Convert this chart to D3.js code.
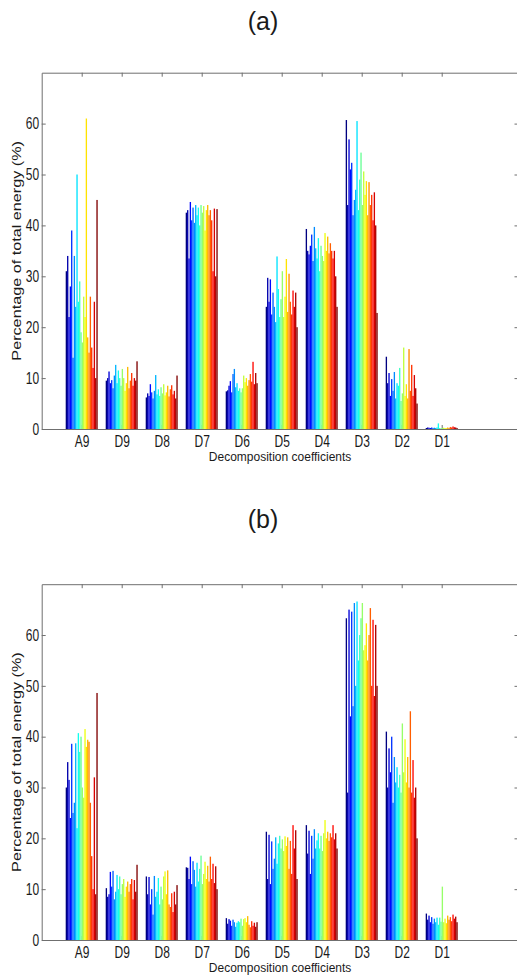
<!DOCTYPE html>
<html>
<head>
<meta charset="utf-8">
<script src="https://cdn.jsdelivr.net/npm/d3@7"></script>
<style>
  body { margin: 0; background: #fff; }
  text { font-family: "Liberation Sans", Arial, sans-serif; fill: #1a1a1a; }
</style>
</head>
<body>
<div class="chart"></div>
<script>
var svgWidth = 517;
var svgHeight = 976;

// categories on the x axis (wavelet decomposition levels)
var categories = ["A9", "D9", "D8", "D7", "D6", "D5", "D4", "D3", "D2", "D1"];
var yTicks = [0, 10, 20, 30, 40, 50, 60];
var nSeries = 24;

// panel (a): one row per category, one value per signal (blue -> red)
var energyA = [
  [31, 34, 22, 28, 39, 14, 34, 24, 50, 25, 29, 19, 17, 26, 22, 61, 18, 15, 26, 16, 12, 25, 10, 45],              // A9
  [9.5, 10, 11.3, 9, 9.6, 8, 10.5, 12.6, 9, 11.5, 10, 8.5, 11.8, 10, 7.5, 9, 12.2, 8, 9.5, 11, 8.5, 10, 9.5, 13.3], // D9
  [6.2, 7, 6.5, 8.8, 7.2, 6, 7.5, 10.6, 6.8, 7.8, 6.5, 8.2, 7, 8.8, 6.6, 7.2, 8.5, 6.4, 7.8, 8.6, 6.8, 7.5, 6, 10.5], // D8
  [42.5, 43, 33.5, 44.6, 41, 43.5, 40.5, 44, 42, 43.5, 40, 44, 42.5, 43.8, 39, 43, 44, 42, 43, 41, 31, 43.3, 30, 43.2], // D7
  [7.4, 7.6, 8.5, 9.4, 7.2, 10.8, 11.8, 8.2, 9, 7.5, 8, 7.2, 8, 10.5, 9.2, 10, 8.5, 9.6, 10.8, 9.3, 13.2, 8.8, 11, 9], // D6
  [24, 29.7, 25, 29.4, 22.5, 26.8, 24, 21, 33.9, 27.5, 22, 25.5, 31, 22, 26, 33.4, 23, 30.5, 25, 22.5, 27.2, 24, 26.8, 20], // D5
  [39.3, 35, 34.3, 36, 38.2, 33, 39.7, 35.5, 33.5, 37.5, 31, 36, 34, 33, 38.5, 35, 37.8, 34.5, 36.5, 35, 33.5, 35, 30, 24], // D4
  [60.7, 44, 56.9, 51, 52.3, 42, 45, 47, 60.5, 43, 49, 54.3, 44, 50.6, 46, 48.7, 42, 48.5, 44, 46, 41, 46.5, 40, 22.8], // D3
  [14.2, 9, 11, 6.5, 9.8, 7.5, 11.2, 6, 9, 8.5, 12, 5.5, 7, 16, 6.5, 8.8, 6, 15.7, 7.5, 12.6, 6.5, 10.6, 8, 5], // D2
  [0.2, 0.3, 0.25, 0.2, 0.3, 0.2, 0.25, 0.2, 0.3, 1.1, 0.2, 0.15, 0.2, 0.25, 0.2, 0.15, 0.3, 0.2, 0.4, 0.3, 0.5, 0.35, 0.3, 0.2] // D1
];

// panel (b)
var energyB = [
  [30, 35, 31.5, 24, 38.6, 25, 27, 38.7, 22, 40.7, 37, 40, 30, 28, 41.5, 38, 39.4, 39, 27, 16.5, 10, 32, 9, 48.6], // A9
  [10.2, 8.5, 9, 13.4, 10.5, 13.6, 8, 9.5, 12.8, 10, 12.5, 9, 11, 12, 8.5, 10.5, 11.5, 9.5, 11, 12, 8, 11.8, 9.5, 14.8], // D9
  [12.5, 9, 12.4, 7, 10, 5, 12.6, 8.5, 9.5, 12.2, 7, 10.5, 8, 12.5, 13.5, 9, 13.7, 7, 6.5, 9.2, 5.5, 9.5, 7, 10.8], // D8
  [14.3, 14.2, 12, 16.4, 11, 15.5, 13.8, 10.5, 15.2, 11.5, 14, 16.6, 11, 13, 15.4, 12, 14.6, 11.5, 16.4, 12, 15, 11.2, 14.5, 10], // D7
  [4.3, 3.2, 4.1, 3.8, 2.8, 4, 3.5, 2.6, 3.4, 3.7, 3.5, 4.2, 2.8, 4.1, 4.3, 3.5, 4.7, 3, 2.5, 3.7, 2.8, 3.4, 2.6, 3.5], // D6
  [21.3, 12, 20.7, 11, 19.4, 14, 16, 20.2, 15, 19, 20.5, 18, 19.8, 17.5, 20.4, 18.5, 20.2, 14, 19.5, 13, 22.6, 18, 21.6, 12], // D5
  [22.6, 17, 21.5, 13, 20.5, 16, 21.8, 18, 19.6, 21, 18, 20.5, 17.5, 21, 23.6, 20, 21.3, 19.5, 21, 20.2, 22.6, 19.8, 21, 18], // D4
  [63.3, 29, 65, 44, 64.6, 46, 66.3, 50, 66.6, 55, 60, 63.3, 66.3, 57, 58, 62.3, 55, 60, 65.3, 50, 63, 48, 62, 50], // D3
  [41, 30, 37.7, 33, 40, 27, 36, 31, 34, 30, 32.5, 29, 42.6, 33, 39.5, 31, 36, 30, 45, 29, 35.4, 28, 30, 20], // D2
  [5.2, 4, 4.8, 3.5, 4.5, 3.2, 4.2, 3.5, 4.4, 3, 4.4, 3.6, 10.5, 3.5, 4.2, 3.3, 4.8, 4, 4.5, 3.7, 5, 4.2, 4.6, 3.5] // D1
];

// the source figure is stretched vertically, so text is too
var stretch = "scale(1,1.35)";
var axisColor = "#6f6f6f";

var panels = [
  { title: "(a)", titleY: 30, top: 72.7, bottom: 429, data: energyA },
  { title: "(b)", titleY: 528, top: 584.2, bottom: 940, data: energyB }
];

var svg = d3.select(".chart")
  .append("svg")
  .attr("width", svgWidth)
  .attr("height", svgHeight);

// x scale in category units, MATLAB style (1..10, axis runs a bit past)
var xMax = 11.92;
var xScale = d3.scaleLinear()
  .domain([0, xMax])
  .range([41.7, 518.5]);

// bars of one group fill 0.8 of a category slot
var halfGroup = (xScale(0.4) - xScale(0));
var subScale = d3.scaleBand()
  .domain(d3.range(nSeries))
  .range([-halfGroup, halfGroup]);

// MATLAB jet colormap
function jet(t) {
  var r = Math.min(1, Math.max(0, 1.5 - Math.abs(4 * t - 3)));
  var g = Math.min(1, Math.max(0, 1.5 - Math.abs(4 * t - 2)));
  var b = Math.min(1, Math.max(0, 1.5 - Math.abs(4 * t - 1)));
  return d3.rgb(r * 255, g * 255, b * 255).toString();
}

panels.forEach(function(p) {
  var yScale = d3.scaleLinear()
    .domain([0, 70])
    .range([p.bottom, p.top]);

  var chartGroup = svg.append("g");

  // title
  chartGroup.append("text")
    .attr("x", 263)
    .attr("y", p.titleY)
    .attr("text-anchor", "middle")
    .style("font-size", "25px")
    .text(p.title);

  // left axis with labels
  var leftAxis = chartGroup.append("g")
    .attr("transform", `translate(${xScale(0)},0)`)
    .call(d3.axisLeft(yScale).tickValues(yTicks).tickSizeInner(-4).tickSizeOuter(0).tickPadding(2.5));

  leftAxis.selectAll("text")
    .attr("transform", stretch)
    .style("font-size", "12px");

  // right axis, ticks only
  chartGroup.append("g")
    .attr("transform", `translate(${xScale(xMax)},0)`)
    .call(d3.axisRight(yScale).tickValues(yTicks).tickSizeInner(-4).tickSizeOuter(0).tickFormat(""));

  // top axis, ticks only
  chartGroup.append("g")
    .attr("transform", `translate(0,${p.top})`)
    .call(d3.axisTop(xScale).tickValues(d3.range(1, 11)).tickSizeInner(-4).tickSizeOuter(0).tickFormat(""));

  // bottom axis with category names
  var bottomAxis = chartGroup.append("g")
    .attr("transform", `translate(0,${p.bottom})`)
    .call(d3.axisBottom(xScale).tickValues(d3.range(1, 11)).tickSizeInner(-4).tickSizeOuter(0)
      .tickFormat(d => categories[d - 1]));

  bottomAxis.selectAll("text")
    .attr("y", 13.1)
    .attr("dy", null)
    .attr("transform", stretch)
    .style("font-size", "12px");

  chartGroup.selectAll(".domain, .tick line")
    .attr("stroke", axisColor);
  chartGroup.selectAll(".tick text")
    .attr("fill", "#1a1a1a")
    .style("font-family", "'Liberation Sans', Arial, sans-serif");

  // grouped bars
  chartGroup.append("g")
    .selectAll("g")
    .data(p.data)
    .enter()
    .append("g")
    .attr("transform", (d, i) => `translate(${xScale(i + 1)},0)`)
    .selectAll("rect")
    .data(d => d)
    .enter()
    .append("rect")
    .attr("x", (d, j) => subScale(j))
    .attr("width", subScale.bandwidth())
    .attr("y", d => yScale(d))
    .attr("height", d => yScale(0) - yScale(d))
    .attr("fill", (d, j) => jet(j / (nSeries - 1)));

  // y axis title
  chartGroup.append("text")
    .attr("transform", `translate(20.8,${(p.top + p.bottom) / 2}) ${stretch} rotate(-90)`)
    .attr("text-anchor", "middle")
    .style("font-size", "12px")
    .text("Percentage of total energy (%)");

  // x axis title
  chartGroup.append("text")
    .attr("transform", `translate(${(xScale(0) + xScale(xMax)) / 2},${p.bottom + 32}) scale(1,1.1)`)
    .attr("text-anchor", "middle")
    .style("font-size", "12px")
    .text("Decomposition coefficients");
});
</script>
</body>
</html>
